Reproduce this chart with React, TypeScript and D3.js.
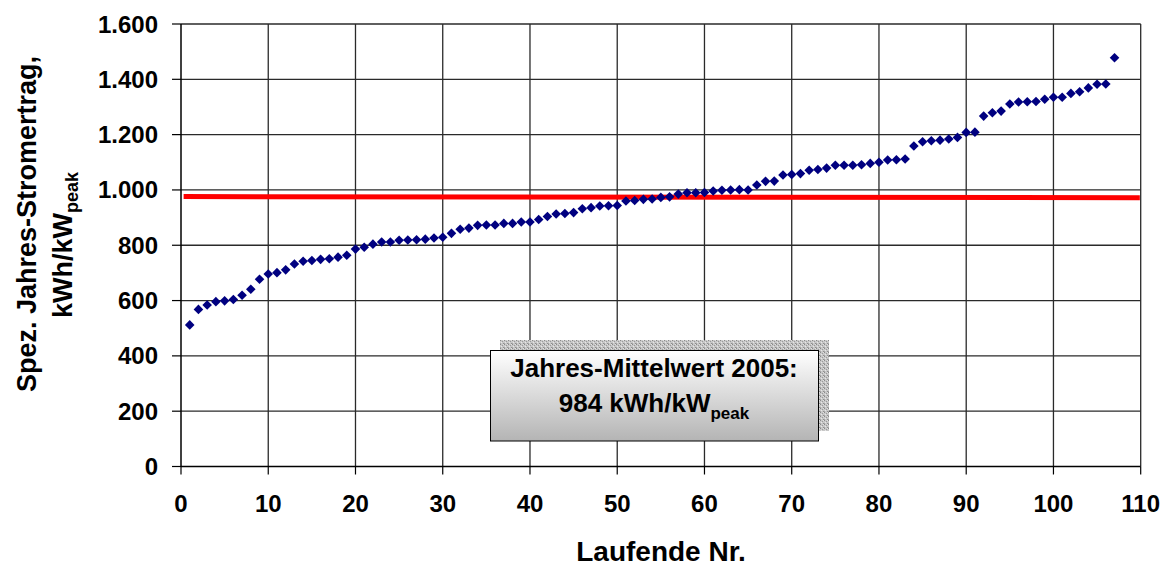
import React from "react";
import * as d3 from "d3";

const yields: number[] = [
  512, 568, 584, 596, 599, 604, 619, 641, 677, 696,
  701, 711, 732, 742, 745, 749, 751, 757, 764, 786,
  793, 804, 812, 812, 818, 819, 820, 822, 826, 829,
  843, 858, 862, 872, 873, 873, 879, 879, 884, 884,
  893, 904, 913, 915, 918, 932, 936, 942, 943, 944,
  960, 962, 966, 967, 973, 975, 985, 990, 990, 991,
  996, 999, 1000, 1001, 1000, 1018, 1031, 1032, 1054, 1056,
  1059, 1071, 1074, 1079, 1089, 1089, 1089, 1091, 1096, 1100,
  1108, 1109, 1112, 1159, 1174, 1178, 1180, 1184, 1190, 1208,
  1209, 1267, 1279, 1285, 1311, 1318, 1319, 1320, 1328, 1335,
  1335, 1349, 1355, 1369, 1382, 1383, 1478,
];
const meanLineX: number[] = [0.3, 109.9];
const meanLineY: number[] = [976, 972];
const xTicks: number[] = [0, 10, 20, 30, 40, 50, 60, 70, 80, 90, 100, 110];
const yTicks: number[] = [0, 200, 400, 600, 800, 1000, 1200, 1400, 1600];
const yTickLabels: string[] = ["0", "200", "400", "600", "800", "1.000", "1.200", "1.400", "1.600"];
const xTitle = "Laufende Nr.";
const yTitle1 = "Spez. Jahres-Stromertrag,";
const yTitle2Main = "kWh/kW";
const subPeak = "peak";
const boxLine1 = "Jahres-Mittelwert 2005:";
const boxLine2Main = "984 kWh/kW";

const W = 1166;
const H = 567;
const FONT = "Arial, 'Liberation Sans', Helvetica, sans-serif";

export default function App() {
  const x = d3.scaleLinear().domain([0, 110]).range([181, 1140.7]);
  const y = d3.scaleLinear().domain([0, 1600]).range([466.5, 24]);
  const line = d3
    .line<number>()
    .x((_, i) => x(meanLineX[i]))
    .y((d) => y(d));
  const diamond = (cx: number, cy: number, r: number) =>
    `M${cx},${cy - r}L${cx + r},${cy}L${cx},${cy + r}L${cx - r},${cy}Z`;

  return (
    <svg
      width={W}
      height={H}
      style={{ position: "absolute", left: 0, top: 0, background: "#fff" }}
      fontFamily={FONT}
    >
      <defs>
        <linearGradient id="boxGrad" x1="0" y1="0" x2="0" y2="1">
          <stop offset="0" stopColor="#ffffff" />
          <stop offset="1" stopColor="#b4b4b4" />
        </linearGradient>
        <pattern id="stipple" width="4" height="4" patternUnits="userSpaceOnUse">
          <rect width="4" height="4" fill="#c8c8c8" />
          <rect x="0" y="0" width="1" height="1" fill="#8a8a8a" />
          <rect x="2" y="1" width="1" height="1" fill="#9a9a9a" />
          <rect x="1" y="2" width="1" height="1" fill="#e6e6e6" />
          <rect x="3" y="3" width="1" height="1" fill="#8f8f8f" />
          <rect x="3" y="0" width="1" height="1" fill="#e0e0e0" />
          <rect x="0" y="3" width="1" height="1" fill="#a8a8a8" />
        </pattern>
      </defs>

      {/* grid lines */}
      {yTicks.filter((t) => t > 0).map((t) => (
        <line key={"gy" + t} x1={x(0)} x2={x(110)} y1={y(t)} y2={y(t)} stroke="#2a2a2a" strokeWidth={1.3} />
      ))}
      {xTicks.filter((t) => t > 0).map((t) => (
        <line key={"gx" + t} x1={x(t)} x2={x(t)} y1={y(0)} y2={y(1600)} stroke="#2a2a2a" strokeWidth={1.3} />
      ))}

      {/* axes */}
      <line x1={x(0)} x2={x(0)} y1={y(0)} y2={y(1600)} stroke="#000" strokeWidth={1.5} />
      <line x1={x(0)} x2={x(110)} y1={y(0)} y2={y(0)} stroke="#000" strokeWidth={1.5} />
      {yTicks.map((t) => (
        <line key={"ty" + t} x1={x(0) - 9} x2={x(0)} y1={y(t)} y2={y(t)} stroke="#000" strokeWidth={1.2} />
      ))}
      {xTicks.map((t) => (
        <line key={"tx" + t} x1={x(t)} x2={x(t)} y1={y(0)} y2={y(0) + 8} stroke="#000" strokeWidth={1.2} />
      ))}

      {/* tick labels */}
      {yTicks.map((t, i) => (
        <text key={"ly" + t} x={158} y={y(t) + 8.5} textAnchor="end" fontSize={24} fontWeight="bold">
          {yTickLabels[i]}
        </text>
      ))}
      {xTicks.map((t) => (
        <text key={"lx" + t} x={x(t)} y={512} textAnchor="middle" fontSize={24} fontWeight="bold">
          {String(t)}
        </text>
      ))}

      {/* axis titles */}
      <text x={661} y={561} textAnchor="middle" fontSize={28} fontWeight="bold">
        {xTitle}
      </text>
      <g transform="translate(36,224) rotate(-90)">
        <text x={0} y={0} textAnchor="middle" fontSize={27} fontWeight="bold">
          {yTitle1}
        </text>
      </g>
      <g transform="translate(72,245) rotate(-90)">
        <text x={0} y={0} textAnchor="middle" fontSize={27} fontWeight="bold">
          {yTitle2Main}
          <tspan fontSize={18} dy={6}>{subPeak}</tspan>
        </text>
      </g>

      {/* mean line */}
      <path d={line(meanLineY) || ""} stroke="#ff0000" strokeWidth={5} fill="none" />

      {/* data points */}
      {yields.map((v, i) => (
        <path key={"p" + i} d={diamond(x(i + 1), y(v), 4.8)} fill="#000080" />
      ))}

      {/* annotation box */}
      <rect x={500} y={340} width={329} height={91} fill="url(#stipple)" />
      <rect x={490.5} y={350.5} width={328} height={90.5} fill="url(#boxGrad)" stroke="#000" strokeWidth={1} />
      <text x={654} y={377} textAnchor="middle" fontSize={26} fontWeight="bold">
        {boxLine1}
      </text>
      <text x={654} y={412} textAnchor="middle" fontSize={26} fontWeight="bold">
        {boxLine2Main}
        <tspan fontSize={17} dy={7}>{subPeak}</tspan>
      </text>
    </svg>
  );
}
